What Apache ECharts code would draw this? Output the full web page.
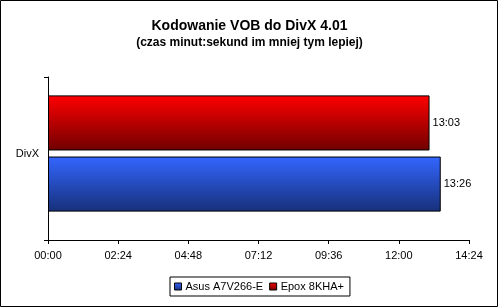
<!DOCTYPE html>
<html><head><meta charset="utf-8">
<script src="https://cdn.jsdelivr.net/npm/echarts@6/dist/echarts.min.js"></script>
<style>html,body{margin:0;padding:0;background:#fff}#c{width:499px;height:308px}</style>
</head><body><div id="c"></div>
<script>
var categories = ["DivX"];
var seriesNames = ["Asus A7V266-E", "Epox 8KHA+"];
var asusValues = [806];   // 13:26 in seconds
var epoxValues = [783];   // 13:03 in seconds
var axisMin = 0, axisMax = 864, axisStep = 144;

function fmt(s){var m=Math.floor(s/60),r=Math.round(s%60);return (m<10?'0':'')+m+':'+(r<10?'0':'')+r;}
var F = 'Liberation Sans, Arial, sans-serif';
var chart = echarts.init(document.getElementById('c'), null, {renderer:'canvas'});
function grad(top, bottom){return new echarts.graphic.LinearGradient(0,0,0,1,[{offset:0,color:top},{offset:1,color:bottom}]);}
var lbl = {show:true,position:'right',distance:3,formatter:function(p){return fmt(p.value);},fontFamily:F,fontSize:11,color:'#000'};
chart.setOption({
  animation:false,
  backgroundColor:'#fff',
  title:{text:'Kodowanie VOB do DivX 4.01',subtext:'(czas minut:sekund im mniej tym lepiej)',left:'center',top:14,itemGap:4,
    textStyle:{fontFamily:F,fontSize:14,fontWeight:'bold',color:'#000'},
    subtextStyle:{fontFamily:F,fontSize:12,fontWeight:'bold',color:'#000'}},
  graphic:[{type:'rect',shape:{x:0.5,y:0.5,width:497,height:306},style:{fill:'none',stroke:'#000',lineWidth:1},z:100}],
  legend:{data:seriesNames,top:277,left:170,icon:'rect',itemWidth:7,itemHeight:7,itemGap:6,
    borderColor:'#000',borderWidth:1,padding:[4,6,4,4],
    textStyle:{fontFamily:F,fontSize:11,color:'#000',padding:[0,0,0,-1]},
    itemStyle:{borderColor:'#000',borderWidth:1}},
  grid:[
    {left:48,right:30,top:77,bottom:78,containLabel:false},
    {left:48,right:30,top:77,bottom:68,containLabel:false}
  ],
  xAxis:[
    {type:'value',gridIndex:0,min:axisMin,max:axisMax,interval:axisStep,show:false},
    {type:'value',gridIndex:1,min:axisMin,max:axisMax,interval:axisStep,
      axisLine:{show:true,lineStyle:{color:'#000',width:1}},
      axisTick:{show:true,length:4,lineStyle:{color:'#000'}},
      splitLine:{show:false},
      axisLabel:{formatter:fmt,fontFamily:F,fontSize:11,color:'#000',margin:10}}
  ],
  yAxis:[
    {type:'category',gridIndex:0,data:categories,
      axisLine:{show:false},axisTick:{show:false},
      axisLabel:{fontFamily:F,fontSize:11,color:'#000',margin:9}},
    {type:'category',gridIndex:1,data:categories,
      axisLine:{show:true,lineStyle:{color:'#000',width:1}},
      axisTick:{show:true,length:4,lineStyle:{color:'#000'}},
      axisLabel:{show:false}}
  ],
  series:[
    {name:seriesNames[1],type:'bar',xAxisIndex:0,yAxisIndex:0,data:epoxValues,barWidth:'36%',barGap:'11%',
      itemStyle:{color:grad('#ff0000','#700000'),borderColor:'#000',borderWidth:1},label:lbl},
    {name:seriesNames[0],type:'bar',xAxisIndex:0,yAxisIndex:0,data:asusValues,barWidth:'36%',barGap:'11%',
      itemStyle:{color:grad('#3366ff','#17307a'),borderColor:'#000',borderWidth:1},label:lbl}
  ]
});
</script></body></html>
